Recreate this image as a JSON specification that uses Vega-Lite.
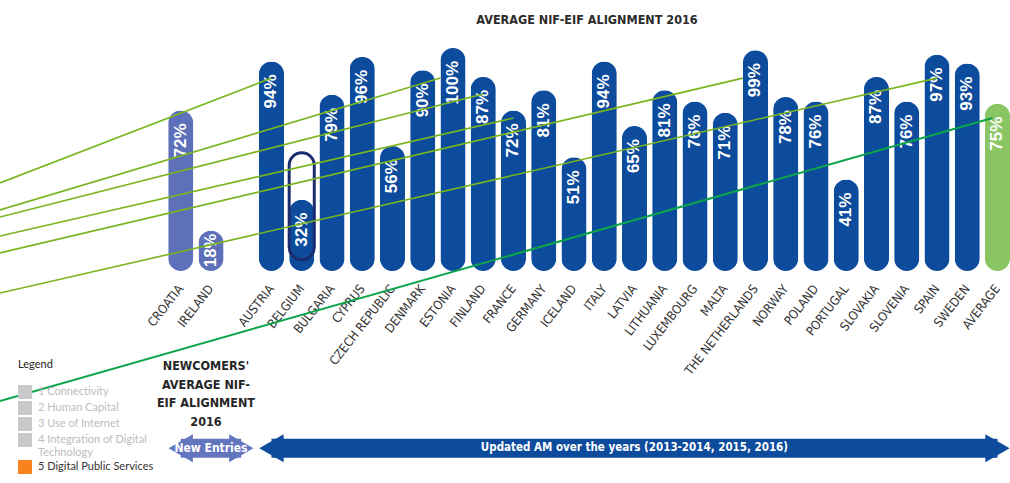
{
"$schema": "https://vega.github.io/schema/vega-lite/v6.json",
"width": 1010, "height": 223,
"autosize": {"type": "none"},
"padding": {"left": 0, "top": 48, "right": 0, "bottom": 212},
"background": "white",
"config": {"view": {"stroke": null}},
"title": {"text": "AVERAGE NIF-EIF ALIGNMENT 2016", "font": "DejaVu Sans Condensed, sans-serif", "fontSize": 12.5, "fontWeight": "bold", "color": "#2b2b2b", "anchor": "middle", "dx": 82, "offset": 22},
"datasets": {
 "bars": [
  {"c": "CROATIA", "v": 0.72, "g": "new"},
  {"c": "IRELAND", "v": 0.18, "g": "new"},
  {"c": "AUSTRIA", "v": 0.94, "g": "upd"},
  {"c": "BELGIUM", "v": 0.32, "g": "upd"},
  {"c": "BULGARIA", "v": 0.79, "g": "upd"},
  {"c": "CYPRUS", "v": 0.96, "g": "upd"},
  {"c": "CZECH REPUBLIC", "v": 0.56, "g": "upd"},
  {"c": "DENMARK", "v": 0.90, "g": "upd"},
  {"c": "ESTONIA", "v": 1.00, "g": "upd"},
  {"c": "FINLAND", "v": 0.87, "g": "upd"},
  {"c": "FRANCE", "v": 0.72, "g": "upd"},
  {"c": "GERMANY", "v": 0.81, "g": "upd"},
  {"c": "ICELAND", "v": 0.51, "g": "upd"},
  {"c": "ITALY", "v": 0.94, "g": "upd"},
  {"c": "LATVIA", "v": 0.65, "g": "upd"},
  {"c": "LITHUANIA", "v": 0.81, "g": "upd"},
  {"c": "LUXEMBOURG", "v": 0.76, "g": "upd"},
  {"c": "MALTA", "v": 0.71, "g": "upd"},
  {"c": "THE NETHERLANDS", "v": 0.99, "g": "upd"},
  {"c": "NORWAY", "v": 0.78, "g": "upd"},
  {"c": "POLAND", "v": 0.76, "g": "upd"},
  {"c": "PORTUGAL", "v": 0.41, "g": "upd"},
  {"c": "SLOVAKIA", "v": 0.87, "g": "upd"},
  {"c": "SLOVENIA", "v": 0.76, "g": "upd"},
  {"c": "SPAIN", "v": 0.97, "g": "upd"},
  {"c": "SWEDEN", "v": 0.93, "g": "upd"},
  {"c": "AVERAGE", "v": 0.75, "g": "avg"}
 ],
 "lines": [
  {"c": "AUSTRIA", "ye": 0.865, "ys": 0.395, "k": "a"},
  {"c": "ESTONIA", "ye": 0.865, "ys": 0.274, "k": "b"},
  {"c": "FINLAND", "ye": 0.794, "ys": 0.242, "k": "a"},
  {"c": "FRANCE", "ye": 0.686, "ys": 0.157, "k": "a"},
  {"c": "THE NETHERLANDS", "ye": 0.865, "ys": 0.081, "k": "b"},
  {"c": "SPAIN", "ye": 0.865, "ys": -0.099, "k": "a"},
  {"c": "AVERAGE", "ye": 0.686, "ys": -0.583, "k": "d"}
 ],
 "ellipse": [{"c": "BELGIUM", "lo": 0.05, "hi": 0.53}],
 "note": [{"c": "IRELAND", "y": -0.428, "t": "NEWCOMERS'\nAVERAGE NIF-\nEIF ALIGNMENT\n2016"}],
 "arrows": [
  {"a": "new", "c": "CROATIA", "c2": " ", "m": "IRELAND", "y": -0.795, "t": "New Entries"},
  {"a": "upd", "c": "AUSTRIA", "c2": "AVERAGE", "m": "LATVIA", "y": -0.795, "t": "Updated AM over the years (2013-2014, 2015, 2016)"}
 ],
 "legend": [
  {"item": "1 Connectivity"},
  {"item": "2 Human Capital"},
  {"item": "3 Use of Internet"},
  {"item": "4 Integration of Digital Technology"},
  {"item": "5 Digital Public Services"}
 ]
},
"encoding": {
 "x": {"field": "c", "type": "nominal", "sort": null,
  "scale": {"domain": ["      ","     ","    ","   ","  ","CROATIA","IRELAND"," ","AUSTRIA","BELGIUM","BULGARIA","CYPRUS","CZECH REPUBLIC","DENMARK","ESTONIA","FINLAND","FRANCE","GERMANY","ICELAND","ITALY","LATVIA","LITHUANIA","LUXEMBOURG","MALTA","THE NETHERLANDS","NORWAY","POLAND","PORTUGAL","SLOVAKIA","SLOVENIA","SPAIN","SWEDEN","AVERAGE"], "paddingInner": 0.17, "paddingOuter": 0.28, "align": 1},
  "axis": {"title": null, "domain": false, "ticks": false, "grid": false, "labelAngle": -52, "labelAlign": "right", "labelBaseline": "middle", "labelFont": "DejaVu Sans Condensed, sans-serif", "labelFontSize": 12.5, "labelColor": "#333333", "labelPadding": 15, "labelOverlap": false, "labelLimit": 0}}
},
"layer": [
 {"data": {"name": "bars"}, "mark": {"type": "bar", "cornerRadius": 12.5},
  "encoding": {
   "y": {"field": "v", "type": "quantitative", "scale": {"domain": [0, 1]}, "axis": null},
   "fill": {"field": "g", "type": "nominal", "scale": {"domain": ["new", "upd", "avg"], "range": ["#5d70b9", "#0d4b9d", "#8ac563"]}, "legend": null}}},
 {"data": {"name": "ellipse"}, "mark": {"type": "bar", "fillOpacity": 0, "stroke": "#1b2b6e", "strokeWidth": 3, "cornerRadius": 15, "width": {"band": 1}},
  "encoding": {
   "y": {"field": "lo", "type": "quantitative", "scale": {"domain": [0, 1]}, "axis": null},
   "y2": {"field": "hi"}}},
 {"data": {"name": "bars"}, "transform": [{"filter": "datum.v >= 0.25"}], "mark": {"type": "text", "angle": 270, "align": "right", "baseline": "middle", "dx": -13, "color": "white", "font": "Liberation Sans, Arial, sans-serif", "fontSize": 17, "fontWeight": "bold"},
  "encoding": {
   "y": {"field": "v", "type": "quantitative", "scale": {"domain": [0, 1]}, "axis": null},
   "text": {"field": "v", "type": "quantitative", "format": ".0%"}}},
 {"data": {"name": "bars"}, "transform": [{"filter": "datum.v < 0.25"}], "mark": {"type": "text", "angle": 270, "align": "right", "baseline": "middle", "dx": -3, "color": "white", "font": "Liberation Sans, Arial, sans-serif", "fontSize": 16.5, "fontWeight": "bold"},
  "encoding": {
   "y": {"field": "v", "type": "quantitative", "scale": {"domain": [0, 1]}, "axis": null},
   "text": {"field": "v", "type": "quantitative", "format": ".0%"}}},
 {"data": {"name": "lines"}, "transform": [{"filter": "datum.k == 'a'"}], "mark": {"type": "rule", "color": "#78b51f", "strokeWidth": 1.6},
  "encoding": {
   "x2": {"value": 0},
   "y": {"field": "ye", "type": "quantitative", "scale": {"domain": [0, 1]}, "axis": null},
   "y2": {"field": "ys"}}},
 {"data": {"name": "lines"}, "transform": [{"filter": "datum.k == 'b'"}], "mark": {"type": "rule", "color": "#78b51f", "strokeWidth": 1.6},
  "encoding": {
   "x": {"field": "c", "type": "nominal", "bandPosition": 0},
   "x2": {"value": 0},
   "y": {"field": "ye", "type": "quantitative", "scale": {"domain": [0, 1]}, "axis": null},
   "y2": {"field": "ys"}}},
 {"data": {"name": "lines"}, "transform": [{"filter": "datum.k == 'd'"}], "mark": {"type": "rule", "color": "#0ca44a", "strokeWidth": 2},
  "encoding": {
   "x": {"field": "c", "type": "nominal", "bandPosition": 0.3},
   "x2": {"value": 0},
   "y": {"field": "ye", "type": "quantitative", "scale": {"domain": [0, 1]}, "axis": null},
   "y2": {"field": "ys"}}},
 {"data": {"name": "note"}, "mark": {"type": "text", "lineBreak": "\n", "font": "DejaVu Sans Condensed, sans-serif", "fontWeight": "bold", "fontSize": 12.5, "lineHeight": 18.5, "color": "#262626", "align": "center", "baseline": "middle"},
  "encoding": {
   "x": {"field": "c", "type": "nominal", "bandPosition": 0.3},
   "y": {"field": "y", "type": "quantitative", "scale": {"domain": [0, 1]}, "axis": null},
   "text": {"field": "t"}}},
 {"data": {"name": "arrows"}, "transform": [{"filter": "datum.a == 'new'"}], "mark": {"type": "rule", "color": "#6475c0", "strokeWidth": 19},
  "encoding": {
   "x2": {"field": "c2"},
   "y": {"field": "y", "type": "quantitative", "scale": {"domain": [0, 1]}, "axis": null}}},
 {"data": {"name": "arrows"}, "transform": [{"filter": "datum.a == 'new'"}], "mark": {"type": "point", "shape": "triangle-left", "filled": true, "size": 784, "color": "#6475c0", "opacity": 1},
  "encoding": {
   "y": {"field": "y", "type": "quantitative", "scale": {"domain": [0, 1]}, "axis": null}}},
 {"data": {"name": "arrows"}, "transform": [{"filter": "datum.a == 'new'"}], "mark": {"type": "point", "shape": "triangle-right", "filled": true, "size": 784, "color": "#6475c0", "opacity": 1},
  "encoding": {
   "x": {"field": "c2", "type": "nominal"},
   "y": {"field": "y", "type": "quantitative", "scale": {"domain": [0, 1]}, "axis": null}}},
 {"data": {"name": "arrows"}, "transform": [{"filter": "datum.a == 'upd'"}], "mark": {"type": "rule", "color": "#0d4b9d", "strokeWidth": 19},
  "encoding": {
   "x2": {"field": "c2"},
   "y": {"field": "y", "type": "quantitative", "scale": {"domain": [0, 1]}, "axis": null}}},
 {"data": {"name": "arrows"}, "transform": [{"filter": "datum.a == 'upd'"}], "mark": {"type": "point", "shape": "triangle-left", "filled": true, "size": 784, "color": "#0d4b9d", "opacity": 1},
  "encoding": {
   "y": {"field": "y", "type": "quantitative", "scale": {"domain": [0, 1]}, "axis": null}}},
 {"data": {"name": "arrows"}, "transform": [{"filter": "datum.a == 'upd'"}], "mark": {"type": "point", "shape": "triangle-right", "filled": true, "size": 784, "color": "#0d4b9d", "opacity": 1},
  "encoding": {
   "x": {"field": "c2", "type": "nominal"},
   "y": {"field": "y", "type": "quantitative", "scale": {"domain": [0, 1]}, "axis": null}}},
 {"data": {"name": "arrows"}, "transform": [{"filter": "datum.a == 'new'"}], "mark": {"type": "text", "color": "white", "font": "DejaVu Sans Condensed, sans-serif", "fontWeight": "bold", "fontSize": 12, "align": "center", "baseline": "middle"},
  "encoding": {
   "x": {"field": "m", "type": "nominal"},
   "y": {"field": "y", "type": "quantitative", "scale": {"domain": [0, 1]}, "axis": null},
   "text": {"field": "t"}}},
 {"data": {"name": "arrows"}, "transform": [{"filter": "datum.a == 'upd'"}], "mark": {"type": "text", "color": "white", "font": "DejaVu Sans Condensed, sans-serif", "fontWeight": "bold", "fontSize": 11.5, "align": "center", "baseline": "middle"},
  "encoding": {
   "x": {"field": "m", "type": "nominal"},
   "y": {"field": "y", "type": "quantitative", "scale": {"domain": [0, 1]}, "axis": null},
   "text": {"field": "t"}}},
 {"data": {"name": "legend"}, "mark": {"type": "square", "opacity": 0},
  "encoding": {
   "x": {"value": 0},
   "color": {"field": "item", "type": "nominal", "sort": null,
    "scale": {"domain": ["1 Connectivity", "2 Human Capital", "3 Use of Internet", "4 Integration of Digital Technology", "5 Digital Public Services"], "range": ["#c9c9c9", "#c9c9c9", "#c9c9c9", "#c9c9c9", "#f7821e"]},
    "legend": {"title": "Legend", "orient": "none", "legendX": 18, "legendY": 311, "symbolType": "square", "symbolSize": 196, "symbolOpacity": 1, "symbolStrokeWidth": 0, "labelFont": "Lato, sans-serif", "labelFontSize": 11, "labelOffset": 6, "labelColor": {"expr": "datum.label == '5 Digital Public Services' ? '#333333' : '#bdbdbd'"}, "labelExpr": "datum.label == '4 Integration of Digital Technology' ? ['4 Integration of Digital', 'Technology'] : datum.label", "titleFont": "Lato, sans-serif", "titleFontSize": 11, "titleFontWeight": "normal", "titleColor": "#222222", "titlePadding": 15, "rowPadding": 2}}}}
]
}
